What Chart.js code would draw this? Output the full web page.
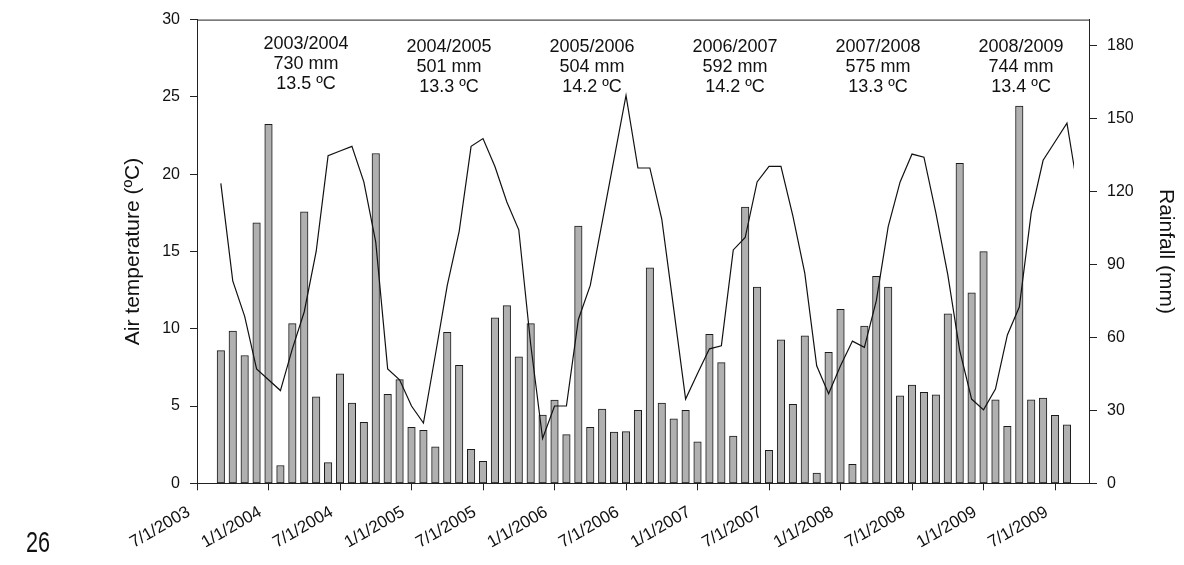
<!DOCTYPE html>
<html>
<head>
<meta charset="utf-8">
<script src="https://cdn.jsdelivr.net/npm/chart.js@4.4.1/dist/chart.umd.min.js"></script>
<style>
  html, body { margin: 0; padding: 0; background: #fff; }
</style>
</head>
<body>
<canvas id="chart" width="1184" height="565"></canvas>
<script>
// x values are months counted from 7/1/2003 (= 0); series start in Sept 2003
const firstMonth = 2;

// monthly rainfall (mm), Sep 2003 .. Aug 2009
const rainfall = [
    54.5, 62.5, 52.5, 107, 147.5, 7.3, 65.6, 111.5, 35.5, 8.5, 45, 33,
    25, 135.5, 36.5, 42.6, 23, 21.8, 15, 62, 48.5, 14, 9, 68,
    73, 52, 65.6, 28, 34.2, 20, 105.7, 23, 30.5, 21, 21.2, 30,
    88.5, 33, 26.5, 30, 17, 61.2, 49.6, 19.4, 113.5, 80.6, 13.5, 58.9,
    32.4, 60.6, 4.2, 53.8, 71.5, 7.8, 64.6, 85, 80.6, 35.9, 40.4, 37.4,
    36.3, 69.6, 131.5, 78.2, 95.2, 34.3, 23.4, 155, 34.3, 35, 27.9, 24
];

// monthly mean air temperature (ºC), Sep 2003 .. Sep 2009
const temperature = [
    19.4, 13.1, 10.8, 7.4, 6.7, 6.0, 8.7, 11.1, 15.0, 21.2, 21.5, 21.8,
    19.5, 15.6, 7.4, 6.7, 5.0, 3.9, 8.3, 12.8, 16.3, 21.8, 22.3, 20.5,
    18.2, 16.4, 9.0, 2.9, 5.0, 5.0, 10.6, 12.8, 16.9, 21.0, 25.1, 20.4,
    20.4, 17.1, 11.3, 5.45, 7.1, 8.7, 8.9, 15.1, 15.9, 19.5, 20.5, 20.5,
    17.3, 13.6, 7.6, 5.8, 7.6, 9.2, 8.8, 11.8, 16.6, 19.5, 21.3, 21.1,
    17.5, 13.5, 8.6, 5.45, 4.75, 6.1, 9.6, 11.4, 17.5, 20.9, 22.1, 23.3,
    18.6
];

const xTickLabels = [
    '7/1/2003', '1/1/2004', '7/1/2004', '1/1/2005', '7/1/2005', '1/1/2006', '7/1/2006',
    '1/1/2007', '7/1/2007', '1/1/2008', '7/1/2008', '1/1/2009', '7/1/2009'
];

const seasons = ['2003/2004', '2004/2005', '2005/2006', '2006/2007', '2007/2008', '2008/2009'];
const seasonRain = ['730 mm', '501 mm', '504 mm', '592 mm', '575 mm', '744 mm'];
const seasonTemp = ['13.5 ºC', '13.3 ºC', '14.2 ºC', '14.2 ºC', '13.3 ºC', '13.4 ºC'];

const FONT = "'Liberation Sans', Arial, sans-serif";
const INK = '#111';
const AXIS = '#222';

Chart.defaults.font.family = FONT;
Chart.defaults.color = INK;

const rainPoints = rainfall.map((v, i) => ({ x: firstMonth + i, y: v }));
const tempPoints = temperature.map((v, i) => ({ x: firstMonth + i, y: v }));

// frame top line, season summaries, manuscript line number
const extrasPlugin = {
    id: 'extras',
    afterDraw(chart) {
        const { ctx, chartArea, scales } = chart;
        ctx.save();
        ctx.strokeStyle = AXIS;
        ctx.lineWidth = 1;
        ctx.beginPath();
        ctx.moveTo(chartArea.left, chartArea.top + 0.5);
        ctx.lineTo(chartArea.right, chartArea.top + 0.5);
        ctx.stroke();

        ctx.fillStyle = INK;
        ctx.font = '18px ' + FONT;
        ctx.textAlign = 'center';
        ctx.textBaseline = 'middle';
        seasons.forEach((s, i) => {
            const x = scales.x.getPixelForValue(firstMonth + 12 * i + 7.15);
            const y0 = chartArea.top + (i === 0 ? 24 : 27.5);
            [s, seasonRain[i], seasonTemp[i]].forEach((t, j) => ctx.fillText(t, x, y0 + 20 * j));
        });

        // narrow "26" like the manuscript margin numbering
        ctx.font = '30px ' + FONT;
        ctx.textAlign = 'left';
        ctx.textBaseline = 'alphabetic';
        ctx.translate(26, 552);
        ctx.scale(0.72, 1);
        ctx.fillText('26', 0, 0);
        ctx.restore();
    }
};

new Chart(document.getElementById('chart'), {
    type: 'bar',
    data: {
        datasets: [
            {
                type: 'line',
                label: 'Air temperature',
                data: tempPoints,
                yAxisID: 'yT',
                borderColor: '#111',
                borderWidth: 1.2,
                pointRadius: 0,
                tension: 0,
                fill: false,
                order: 0,
                clip: { left: 5, top: 5, right: -15, bottom: 5 }
            },
            {
                label: 'Rainfall',
                data: rainPoints,
                yAxisID: 'yR',
                backgroundColor: '#b0b0b0',
                borderColor: '#1a1a1a',
                borderWidth: 1,
                borderSkipped: false,
                barThickness: 7.5,
                order: 1
            }
        ]
    },
    options: {
        responsive: false,
        animation: false,
        layout: { padding: { top: 16, left: 0, right: 0, bottom: 0 } },
        plugins: { legend: { display: false }, tooltip: { enabled: false } },
        scales: {
            x: {
                type: 'linear',
                min: 0,
                max: 74.85,
                offset: false,
                afterFit: s => { s.height = 81.7; },
                ticks: {
                    stepSize: 6,
                    includeBounds: false,
                    autoSkip: false,
                    minRotation: 30,
                    maxRotation: 30,
                    padding: 7,
                    font: { size: 17 },
                    // trailing spaces pull the rotated label a little left of its tick
                    callback: v => xTickLabels[v / 6] + '  '
                },
                grid: { drawOnChartArea: false, tickLength: 7, color: AXIS, offset: false },
                border: { color: AXIS, width: 1 }
            },
            yT: {
                type: 'linear',
                position: 'left',
                min: 0,
                max: 30,
                afterFit: s => { s.width = 197; },
                ticks: { stepSize: 5, padding: 10, font: { size: 16 } },
                grid: { drawOnChartArea: false, tickLength: 7, color: AXIS },
                border: { color: AXIS, width: 1 },
                title: {
                    display: true,
                    text: 'Air temperature (ºC)',
                    font: { size: 21 },
                    padding: { top: 121, bottom: 0 }
                }
            },
            yR: {
                type: 'linear',
                position: 'right',
                min: 0,
                max: 190.5,
                afterFit: s => { s.width = 95; },
                ticks: { stepSize: 30, includeBounds: false, padding: 10, font: { size: 16 } },
                grid: { drawOnChartArea: false, tickLength: 8, color: AXIS },
                border: { color: AXIS, width: 1 },
                title: {
                    display: true,
                    text: 'Rainfall (mm)',
                    font: { size: 21 },
                    padding: { top: 5.5, bottom: 0 }
                }
            }
        }
    },
    plugins: [extrasPlugin]
});
</script>
</body>
</html>
